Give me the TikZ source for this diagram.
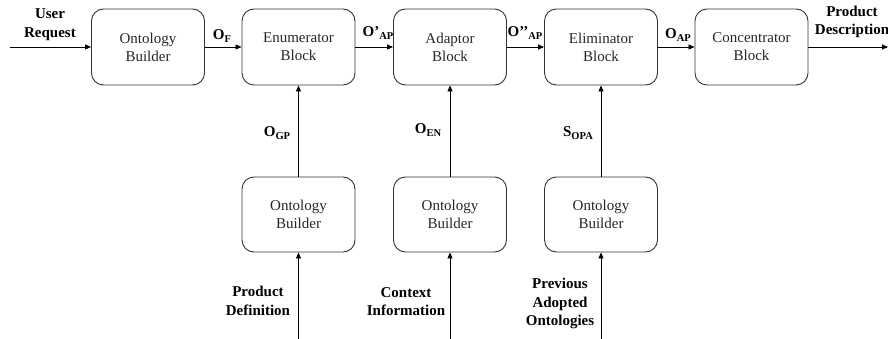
\documentclass[tikz,border=0pt]{standalone}
\usepackage{fontspec}
\setmainfont{Liberation Serif}
\usetikzlibrary{arrows.meta}
\newcommand\subsc[1]{\raisebox{-0.35ex}{\fontsize{10.5}{10.5}\selectfont #1}}
\begin{document}
\begin{tikzpicture}[x=1pt,y=-1pt,
 blockbox/.style={draw=black!80, line width=0.9pt, rounded corners=12pt, minimum width=113pt, minimum height=76pt, align=center, font=\fontsize{15}{18}\selectfont, text=black!85, inner sep=0pt},
 lbl/.style={font=\fontsize{15}{18.5}\selectfont\bfseries, align=center, inner sep=0pt},
 arr/.style={-{Triangle[length=6pt,width=5pt]}, line width=0.8pt}]
\useasboundingbox (0,0) rectangle (888,339);
% top row
\node[blockbox] (ob1) at (148,47) {Ontology\\Builder};
\node[blockbox] (enum) at (298.5,47) {Enumerator\\Block};
\node[blockbox] (adapt) at (450,47) {Adaptor\\Block};
\node[blockbox] (elim) at (601,47) {Eliminator\\Block};
\node[blockbox] (conc) at (751.5,47) {Concentrator\\Block};
% bottom row
\node[blockbox, minimum height=75pt] (ob2) at (298.5,214.5) {Ontology\\Builder};
\node[blockbox, minimum height=75pt] (ob3) at (450,214.5) {Ontology\\Builder};
\node[blockbox, minimum height=75pt] (ob4) at (601,214.5) {Ontology\\Builder};
% free ends
\coordinate (uin) at (10,47);
\coordinate (pout) at (888,47);
\coordinate (in2) at (298.5,339);
\coordinate (in3) at (450,339);
\coordinate (in4) at (601,339);
% connectors
\draw[arr] (uin) -- (ob1);
\draw[arr] (ob1) -- (enum);
\draw[arr] (enum) -- (adapt);
\draw[arr] (adapt) -- (elim);
\draw[arr] (elim) -- (conc);
\draw[arr] (conc) -- (pout);
\draw[arr] (ob2) -- (enum);
\draw[arr] (ob3) -- (adapt);
\draw[arr] (ob4) -- (elim);
\draw[arr] (in2) -- (ob2);
\draw[arr] (in3) -- (ob3);
\draw[arr] (in4) -- (ob4);
% labels
\node[lbl] (lur) at (50,24.5) {User\\Request};
\node[lbl] (lpd) at (852,22) {Product\\Description};
\node[lbl] (lof) at (222,36) {O\subsc{F}};
\node[lbl] (loap1) at (378,33) {O\textquoteright\subsc{AP}};
\node[lbl] (loap2) at (525,33) {O\textquoteright\textquoteright\subsc{AP}};
\node[lbl] (loap) at (678,35) {O\subsc{AP}};
\node[lbl] (logp) at (277,133) {O\subsc{GP}};
\node[lbl] (loen) at (428,130) {O\subsc{EN}};
\node[lbl] (lsopa) at (578,133) {S\subsc{OPA}};
\node[lbl] (lprod) at (258,301) {Product\\Definition};
\node[lbl] (lctx) at (406,301.5) {Context\\Information};
\node[lbl] (lprev) at (560,303.5) {Previous\\Adopted\\Ontologies};
\end{tikzpicture}
\end{document}
